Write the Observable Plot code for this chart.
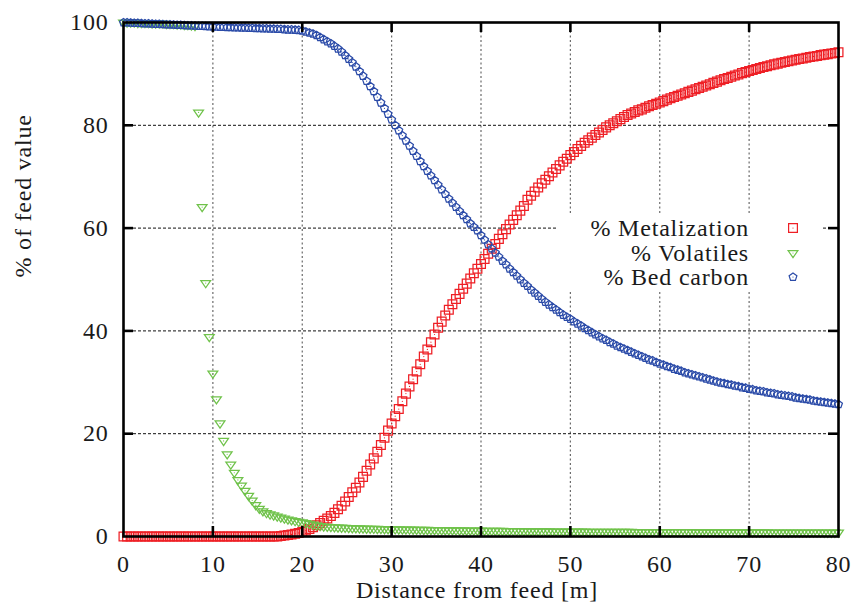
<!DOCTYPE html>
<html>
<head>
<meta charset="utf-8">
<script src="https://cdn.jsdelivr.net/npm/d3@7"></script>
<script src="https://cdn.jsdelivr.net/npm/@observablehq/plot@0.6"></script>
<style>
  html, body { margin: 0; padding: 0; background: #fff; }
  #wrap { position: relative; width: 855px; height: 609px; }
  svg text { letter-spacing: 0.8px; }
  #legend { position: absolute; left: 558px; top: 214px; width: 264px; height: 76px; background: #fff;
            font-family: "Liberation Serif", serif; font-size: 24px; letter-spacing: 0.8px; color: #1a1a1a; }
  #legend .lab { position: absolute; right: 73px; line-height: 24px; white-space: nowrap; }
  #legend svg { position: absolute; left: 228px; }
</style>
</head>
<body>
<div id="wrap"></div>
<script>
// distance from feed [m]
const xs = [
0,0.4,0.8,1.2,1.6,2,2.4,2.8,3.2,3.6,
4,4.4,4.8,5.2,5.6,6,6.4,6.8,7.2,7.6,
8,8.4,8.8,9.2,9.6,10,10.4,10.8,11.2,11.6,
12,12.4,12.8,13.2,13.6,14,14.4,14.8,15.2,15.6,
16,16.4,16.8,17.2,17.6,18,18.4,18.8,19.2,19.6,
20,20.4,20.8,21.2,21.6,22,22.4,22.8,23.2,23.6,
24,24.4,24.8,25.2,25.6,26,26.4,26.8,27.2,27.6,
28,28.4,28.8,29.2,29.6,30,30.4,30.8,31.2,31.6,
32,32.4,32.8,33.2,33.6,34,34.4,34.8,35.2,35.6,
36,36.4,36.8,37.2,37.6,38,38.4,38.8,39.2,39.6,
40,40.4,40.8,41.2,41.6,42,42.4,42.8,43.2,43.6,
44,44.4,44.8,45.2,45.6,46,46.4,46.8,47.2,47.6,
48,48.4,48.8,49.2,49.6,50,50.4,50.8,51.2,51.6,
52,52.4,52.8,53.2,53.6,54,54.4,54.8,55.2,55.6,
56,56.4,56.8,57.2,57.6,58,58.4,58.8,59.2,59.6,
60,60.4,60.8,61.2,61.6,62,62.4,62.8,63.2,63.6,
64,64.4,64.8,65.2,65.6,66,66.4,66.8,67.2,67.6,
68,68.4,68.8,69.2,69.6,70,70.4,70.8,71.2,71.6,
72,72.4,72.8,73.2,73.6,74,74.4,74.8,75.2,75.6,
76,76.4,76.8,77.2,77.6,78,78.4,78.8,79.2,79.6,
80];

// % Metalization
const metalization = [
0,0,0,0,0,0,0,0,0,0,
0,0,0,0,0,0,0,0,0,0,
0,0,0,0,0,0,0,0,0,0,
0,0,0,0,0,0,0,0,0,0,
0,0,0,0,0.1,0.2,0.3,0.4,0.55,0.7,
0.9,1.15,1.45,1.8,2.2,2.6,3.05,3.5,4.0,4.6,
5.3,6.0,6.8,7.7,8.6,9.5,10.5,11.6,12.8,14.0,
15.2,16.5,17.8,19.2,20.6,22.0,23.4,24.8,26.3,27.8,
29.2,30.6,32.1,33.5,35.0,36.4,37.8,39.3,40.6,41.8,
43.0,44.1,45.2,46.2,47.2,48.2,49.2,50.2,51.2,52.1,
53.0,54.0,55.0,56.0,56.9,57.9,58.8,59.8,60.7,61.6,
62.5,63.4,64.3,65.5,66.3,67.1,67.9,68.7,69.4,70.1,
70.8,71.5,72.2,72.9,73.5,74.2,74.8,75.4,76.0,76.6,
77.1,77.6,78.1,78.6,79.1,79.6,80.0,80.4,80.8,81.2,
81.6,82.0,82.3,82.6,82.9,83.1,83.4,83.7,83.95,84.2,
84.45,84.7,85.0,85.25,85.5,85.75,86.0,86.25,86.5,86.75,
87.0,87.25,87.5,87.75,88.0,88.25,88.5,88.75,89.0,89.2,
89.45,89.7,89.9,90.15,90.35,90.55,90.75,90.95,91.15,91.35,
91.5,91.7,91.85,92.0,92.15,92.3,92.45,92.6,92.75,92.9,
93.0,93.15,93.3,93.4,93.5,93.65,93.75,93.85,93.95,94.05,
94.2];

// % Volatiles
const volatiles = [
100,100,100,100,99.9,99.9,99.9,99.9,99.8,99.8,
99.8,99.8,99.7,99.7,99.7,99.6,99.6,99.5,99.5,99.4,
99.3,82.5,64.1,49.3,38.8,31.7,26.7,22.0,18.6,16.0,
14.0,12.4,11.0,9.9,8.9,7.9,7.0,6.1,5.4,4.9,
4.55,4.3,4.1,3.9,3.7,3.5,3.3,3.15,3.0,2.85,
2.75,2.6,2.45,2.3,2.15,2.05,1.95,1.9,1.85,1.8,
1.75,1.72,1.69,1.66,1.63,1.6,1.57,1.55,1.53,1.51,
1.49,1.47,1.45,1.43,1.42,1.4,1.39,1.38,1.36,1.35,
1.34,1.33,1.31,1.3,1.29,1.28,1.27,1.26,1.25,1.24,
1.23,1.22,1.21,1.2,1.19,1.18,1.17,1.16,1.15,1.14,
1.13,1.12,1.11,1.1,1.09,1.08,1.08,1.07,1.06,1.05,
1.05,1.04,1.03,1.03,1.02,1.01,1.01,1.0,1.0,0.99,
0.98,0.98,0.97,0.97,0.96,0.96,0.95,0.95,0.94,0.94,
0.93,0.93,0.92,0.92,0.92,0.91,0.91,0.9,0.9,0.9,
0.89,0.89,0.89,0.88,0.88,0.88,0.87,0.87,0.87,0.86,
0.86,0.86,0.86,0.85,0.85,0.85,0.84,0.84,0.84,0.84,
0.83,0.83,0.83,0.83,0.82,0.82,0.82,0.82,0.81,0.81,
0.81,0.81,0.8,0.8,0.8,0.8,0.8,0.79,0.79,0.79,
0.79,0.78,0.78,0.78,0.78,0.78,0.77,0.77,0.77,0.77,
0.77,0.76,0.76,0.76,0.76,0.76,0.75,0.75,0.75,0.75,
0.75];

// % Bed carbon
const bedCarbon = [
100,100,99.95,99.9,99.9,99.85,99.8,99.8,99.75,99.7,
99.7,99.65,99.6,99.6,99.55,99.5,99.5,99.45,99.4,99.4,
99.35,99.3,99.3,99.25,99.2,99.2,99.15,99.1,99.1,99.05,
99.05,99.0,99.0,98.95,98.95,98.9,98.9,98.85,98.85,98.8,
98.8,98.75,98.75,98.7,98.7,98.65,98.6,98.6,98.55,98.5,
98.4,98.2,98.0,97.8,97.5,97.1,96.7,96.3,95.9,95.4,
94.9,94.3,93.6,92.9,92.2,91.4,90.5,89.6,88.6,87.6,
86.6,85.5,84.4,83.3,82.2,81.1,80.0,79.0,78.0,77.0,
76.0,75.0,74.0,73.0,72.0,71.1,70.2,69.3,68.4,67.5,
66.6,65.7,64.9,64.1,63.3,62.5,61.7,60.9,60.2,59.5,
58.6,57.7,56.8,56.0,55.2,54.4,53.6,52.9,52.1,51.4,
50.7,50.0,49.3,48.7,48.0,47.4,46.8,46.2,45.6,45.1,
44.6,44.1,43.6,43.1,42.7,42.3,41.8,41.4,41.0,40.5,
40.1,39.7,39.3,38.9,38.5,38.2,37.8,37.5,37.1,36.8,
36.5,36.2,35.9,35.6,35.3,35.0,34.7,34.4,34.2,33.9,
33.6,33.4,33.1,32.9,32.6,32.4,32.2,31.9,31.7,31.5,
31.3,31.1,30.9,30.7,30.5,30.3,30.1,29.9,29.8,29.6,
29.5,29.3,29.2,29.0,28.9,28.7,28.6,28.4,28.3,28.2,
28.0,27.9,27.8,27.6,27.5,27.4,27.3,27.2,27.0,26.9,
26.8,26.7,26.6,26.4,26.3,26.2,26.1,26.0,25.9,25.8,
25.7];

const seriesNames = ["% Metalization", "% Volatiles", "% Bed carbon"];
const xTicks = [0, 10, 20, 30, 40, 50, 60, 70, 80];
const yTicks = [0, 20, 40, 60, 80, 100];
const xGrid = [10, 20, 30, 40, 50, 60, 70];
const yGrid = [20, 40, 60, 80];
const xLabel = "Distance from feed [m]";
const yLabel = "% of feed value";

const colors = ["#ee1f25", "#6fc24a", "#2b4ba8"];

const rows = xs.map((x, i) => ({x, m: metalization[i], v: volatiles[i], c: bedCarbon[i]}));

// custom symbols (size = pi r^2)
const rad = s => Math.sqrt(s / Math.PI);
const squareSym = {draw(ctx, size) { const r = rad(size);
  ctx.moveTo(-r, -r); ctx.lineTo(r, -r); ctx.lineTo(r, r); ctx.lineTo(-r, r); ctx.closePath(); }};
const triDownSym = {draw(ctx, size) { const r = rad(size);
  ctx.moveTo(-r, -0.5 * r); ctx.lineTo(r, -0.5 * r); ctx.lineTo(0, 0.95 * r); ctx.closePath(); }};
const pentSym = {draw(ctx, size) { const r = rad(size);
  for (let k = 0; k < 5; k++) { const a = -Math.PI / 2 + k * 2 * Math.PI / 5;
    const px = r * Math.cos(a), py = r * Math.sin(a); if (k) ctx.lineTo(px, py); else ctx.moveTo(px, py); }
  ctx.closePath(); }};
const symbols = [squareSym, triDownSym, pentSym];
const radii = [4.4, 4.9, 4.1];
const keys = ["m", "v", "c"];

const W = 855, H = 609, ML = 123, MR = 17, MT = 22, MB = 73;
const fw = W - ML - MR, fh = H - MT - MB;
const tickLen = 10;

const seriesMarks = keys.flatMap((k, i) => [
  Plot.dot(rows, {x: "x", y: k, symbol: symbols[i], r: radii[i], stroke: colors[i], strokeWidth: 1.25, fill: "none"}),
  Plot.dot(rows, {x: "x", y: k, r: 0.6, fill: colors[i], stroke: null})
]);

const chart = Plot.plot({
  width: W, height: H,
  marginLeft: ML, marginRight: MR, marginTop: MT, marginBottom: MB,
  x: {domain: [0, 80]},
  y: {domain: [0, 100]},
  style: {fontFamily: "'Liberation Serif', serif", fontSize: "24px", background: "#fff", color: "#1a1a1a"},
  marks: [
    Plot.ruleX(xGrid, {x: d => d, stroke: "#6a6a6a", strokeWidth: 1.2, strokeDasharray: "2,2.5"}),
    Plot.ruleY(yGrid, {y: d => d, stroke: "#111", strokeWidth: 1, strokeDasharray: "3,2"}),
    ...seriesMarks,
    Plot.frame({stroke: "#000", strokeWidth: 2.6}),
    Plot.tickX(xGrid, {x: d => d, insetTop: fh - tickLen, stroke: "#000", strokeWidth: 2.6}),
    Plot.tickX(xGrid, {x: d => d, insetBottom: fh - tickLen, stroke: "#000", strokeWidth: 2.6}),
    Plot.tickY(yGrid, {y: d => d, insetRight: fw - tickLen, stroke: "#000", strokeWidth: 2.6}),
    Plot.tickY(yGrid, {y: d => d, insetLeft: fw - tickLen, stroke: "#000", strokeWidth: 2.6}),
    Plot.axisX(xTicks, {tickSize: 0, tickPadding: 18, fontSize: 24, label: null}),
    Plot.axisY(yTicks, {tickSize: 0, tickPadding: 15, fontSize: 24, label: null}),
    Plot.text([xLabel], {text: d => d, frameAnchor: "bottom", dy: 61, dx: -4, fontSize: 24}),
    Plot.text([yLabel], {text: d => d, frameAnchor: "left", rotate: -90, dx: -100, dy: -2, fontSize: 24})
  ]
});

const wrap = document.getElementById("wrap");
wrap.appendChild(chart);

// legend (inside plot area, opaque box)
const legend = document.createElement("div");
legend.id = "legend";
const rowCenters = [14, 39, 63];
seriesNames.forEach((name, i) => {
  const lab = document.createElement("div");
  lab.className = "lab";
  lab.style.top = (rowCenters[i] - 12) + "px";
  lab.textContent = name;
  legend.appendChild(lab);
  const p = d3.path();
  symbols[i].draw(p, Math.PI * radii[i] * radii[i]);
  const s = d3.create("svg").attr("width", 14).attr("height", 14)
    .style("top", (rowCenters[i] - 7) + "px");
  const g = s.append("g").attr("transform", "translate(7,7)");
  g.append("path").attr("d", p.toString()).attr("fill", "none").attr("stroke", colors[i]).attr("stroke-width", 1.2);
  g.append("circle").attr("r", 0.6).attr("fill", colors[i]);
  legend.appendChild(s.node());
});
wrap.appendChild(legend);
</script>
</body>
</html>
